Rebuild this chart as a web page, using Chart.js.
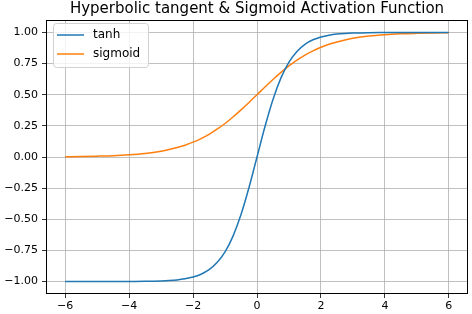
<!DOCTYPE html>
<html>
<head>
<meta charset="utf-8">
<script src="https://cdn.jsdelivr.net/npm/chart.js@4.4.0/dist/chart.umd.min.js"></script>
<style>
  html, body { margin: 0; padding: 0; background: #fff; }
  #wrap { width: 472px; height: 314px; }
</style>
</head>
<body>
<div id="wrap"><canvas id="chartAtivacao" width="472" height="314"></canvas></div>
<script>
// valores
const xValores = [-6, -5.5, -5, -4.5, -4, -3.5, -3, -2.75, -2.5, -2.25, -2, -1.75, -1.5, -1.25, -1, -0.75, -0.5, -0.25,
    0, 0.25, 0.5, 0.75, 1, 1.25, 1.5, 1.75, 2, 2.25, 2.5, 2.75, 3, 3.5, 4, 4.5, 5, 5.5, 6];
const tanhValores = [-1.000, -1.000, -1.000, -1.000, -0.999, -0.998, -0.995, -0.992, -0.987, -0.978, -0.964, -0.941, -0.905, -0.848, -0.762, -0.635, -0.462, -0.245,
    0.000, 0.245, 0.462, 0.635, 0.762, 0.848, 0.905, 0.941, 0.964, 0.978, 0.987, 0.992, 0.995, 0.998, 0.999, 1.000, 1.000, 1.000, 1.000];
const sigmoidValores = [0.002, 0.004, 0.007, 0.011, 0.018, 0.029, 0.047, 0.060, 0.076, 0.095, 0.119, 0.148, 0.182, 0.223, 0.269, 0.321, 0.378, 0.438,
    0.500, 0.562, 0.622, 0.679, 0.731, 0.777, 0.818, 0.852, 0.881, 0.905, 0.924, 0.940, 0.953, 0.971, 0.982, 0.989, 0.993, 0.996, 0.998];
const xTicks = [-6, -4, -2, 0, 2, 4, 6];
const yTicks = [-1, -0.75, -0.5, -0.25, 0, 0.25, 0.5, 0.75, 1];

const fonte = 'DejaVu Sans';
const menos = v => String(v).replace('-', '\u2212');

const molduraPlugin = {
    id: 'moldura',
    afterDatasetsDraw(chart) {
        const a = chart.chartArea;
        const ctx = chart.ctx;
        ctx.save();
        ctx.strokeStyle = '#000';
        ctx.lineWidth = 1;
        ctx.strokeRect(Math.round(a.left) + 0.5, Math.round(a.top) + 0.5, Math.round(a.right - a.left) - 1, Math.round(a.bottom - a.top) - 1);
        // caixa da legenda
        ctx.fillStyle = 'rgba(255,255,255,0.8)';
        ctx.strokeStyle = '#d0d0d0';
        ctx.beginPath();
        ctx.roundRect(53.5, 23.5, 95, 44, 3);
        ctx.fill();
        ctx.stroke();
        const itens = [['tanh', '#1f77b4'], ['sigmoid', '#ff7f0e']];
        itens.forEach((it, i) => {
            const y = 35 + i * 19;
            ctx.strokeStyle = it[1];
            ctx.lineWidth = 1.5;
            ctx.beginPath();
            ctx.moveTo(57, y);
            ctx.lineTo(84, y);
            ctx.stroke();
            ctx.fillStyle = '#000';
            ctx.font = '12px "' + fonte + '"';
            ctx.textBaseline = 'middle';
            ctx.fillText(it[0], 93, y);
        });
        ctx.restore();
    }
};

const ctx = document.getElementById('chartAtivacao');

new Chart(ctx, {
    type: 'line',
    data: {
        datasets: [{
            label: 'tanh',
            data: xValores.map((x, i) => ({ x: x, y: tanhValores[i] })),
            borderColor: '#1f77b4',
            borderWidth: 1.5,
            pointRadius: 0,
            cubicInterpolationMode: 'monotone'
        }, {
            label: 'sigmoid',
            data: xValores.map((x, i) => ({ x: x, y: sigmoidValores[i] })),
            borderColor: '#ff7f0e',
            borderWidth: 1.5,
            pointRadius: 0,
            cubicInterpolationMode: 'monotone'
        }]
    },
    options: {
        responsive: false,
        animation: false,
        layout: { padding: { left: 0, right: 4, top: 0, bottom: 0 } },
        plugins: {
            legend: { display: false },
            tooltip: { enabled: false },
            title: {
                display: true,
                fullSize: false,
                text: 'Hyperbolic tangent & Sigmoid Activation Function',
                color: '#000',
                font: { family: fonte, size: 15, weight: 'normal', lineHeight: 1.2 },
                padding: { top: 0, bottom: 2 }
            }
        },
        scales: {
            x: {
                type: 'linear',
                min: -6.6,
                max: 6.6,
                afterBuildTicks: s => { s.ticks = xTicks.map(v => ({ value: v })); },
                afterFit: s => { s.height = 20; },
                grid: { color: '#b0b0b0', lineWidth: 0.8, tickColor: '#000', tickLength: 4 },
                border: { display: false },
                ticks: {
                    color: '#000',
                    padding: 2,
                    maxRotation: 0,
                    font: { family: fonte, size: 11 },
                    callback: v => menos(v)
                }
            },
            y: {
                type: 'linear',
                min: -1.1,
                max: 1.1,
                afterBuildTicks: s => { s.ticks = yTicks.map(v => ({ value: v })); },
                afterFit: s => { s.width = 46; },
                grid: { color: '#b0b0b0', lineWidth: 0.8, tickColor: '#000', tickLength: 4 },
                border: { display: false },
                ticks: {
                    color: '#000',
                    padding: 4,
                    font: { family: fonte, size: 11 },
                    callback: v => menos(v.toFixed(2))
                }
            }
        }
    },
    plugins: [molduraPlugin]
});
</script>
</body>
</html>
